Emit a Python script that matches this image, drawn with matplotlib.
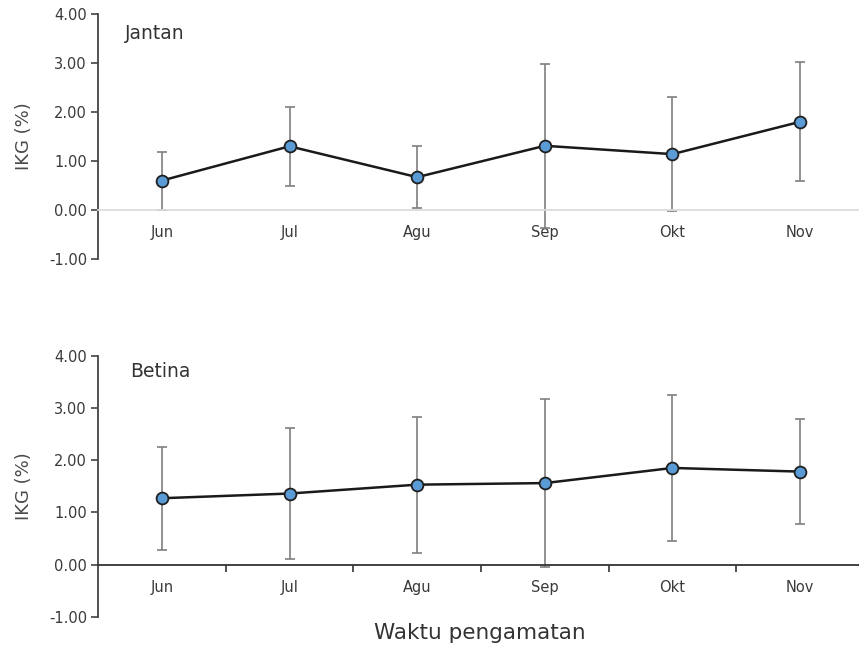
import numpy as np
import matplotlib.pyplot as plt
from matplotlib.ticker import FixedLocator, NullFormatter

# Monthly IKG values (mean +/- sd) for male and female
bulan = ["Jun", "Jul", "Agu", "Sep", "Okt", "Nov"]

jantan_mean = [0.60, 1.30, 0.67, 1.31, 1.14, 1.80]
jantan_sd = [0.59, 0.81, 0.63, 1.67, 1.16, 1.21]

betina_mean = [1.27, 1.36, 1.53, 1.56, 1.85, 1.78]
betina_sd = [0.99, 1.25, 1.30, 1.61, 1.40, 1.01]

yticks = [-1, 0, 1, 2, 3, 4]

fig = plt.figure(figsize=(8.59, 6.47), dpi=100)
ax1 = fig.add_axes([0.1141, 0.5997, 0.8917, 0.3787])
ax2 = fig.add_axes([0.1141, 0.0468, 0.8917, 0.4034])

text_col = "#3a3a3a"
x = np.arange(len(bulan))


def draw_panel(ax, mean, sd, title, title_xy, ticked):
    ax.errorbar(x, mean, yerr=sd, fmt="none", ecolor="#7f7f7f",
                elinewidth=1.2, capsize=3.5, capthick=1.2, zorder=2)
    ax.plot(x, mean, color="#1a1a1a", lw=1.8, marker="o", markersize=8.5,
            markerfacecolor="#5b9bd5", markeredgecolor="#1f1f1f",
            markeredgewidth=1.3, zorder=3)

    ax.set_xlim(-0.5, 5.5)
    ax.set_ylim(-1, 4)
    ax.set_yticks(yticks)
    ax.set_yticklabels([f"{v:.2f}" for v in yticks])
    ax.set_xticks(x)
    ax.set_xticklabels(bulan)

    for s in ("top", "right"):
        ax.spines[s].set_visible(False)
    ax.spines["left"].set_color("#444444")
    ax.spines["left"].set_linewidth(1.3)
    ax.spines["bottom"].set_position(("data", 0))

    ax.tick_params(axis="y", direction="out", length=5, width=1.2,
                   color="#444444", labelcolor=text_col, labelsize=10.5, pad=3)
    ax.tick_params(axis="x", which="major", length=0, labelcolor=text_col,
                   labelsize=10.5, pad=11)

    if ticked:
        ax.spines["bottom"].set_color("#333333")
        ax.spines["bottom"].set_linewidth(1.3)
        ax.xaxis.set_minor_locator(FixedLocator(x[:-1] + 0.5))
        ax.xaxis.set_minor_formatter(NullFormatter())
        ax.tick_params(axis="x", which="minor", direction="out", length=5,
                       width=1.2, color="#333333")
    else:
        ax.spines["bottom"].set_color("#dcdcdc")
        ax.spines["bottom"].set_linewidth(1.3)

    ax.set_ylabel("IKG (%)", fontsize=13, color="#4a4a4a", labelpad=11)
    ax.text(title_xy[0], title_xy[1], title, transform=ax.transAxes,
            fontsize=13.5, color="#333333", va="center", ha="left")


draw_panel(ax1, jantan_mean, jantan_sd, "Jantan", (0.035, 0.922), ticked=False)
draw_panel(ax2, betina_mean, betina_sd, "Betina", (0.042, 0.939), ticked=True)

fig.text(0.559, 0.022, "Waktu pengamatan", fontsize=15.5, color="#333333",
         ha="center", va="center")

fig.savefig("out.png", dpi=100)
